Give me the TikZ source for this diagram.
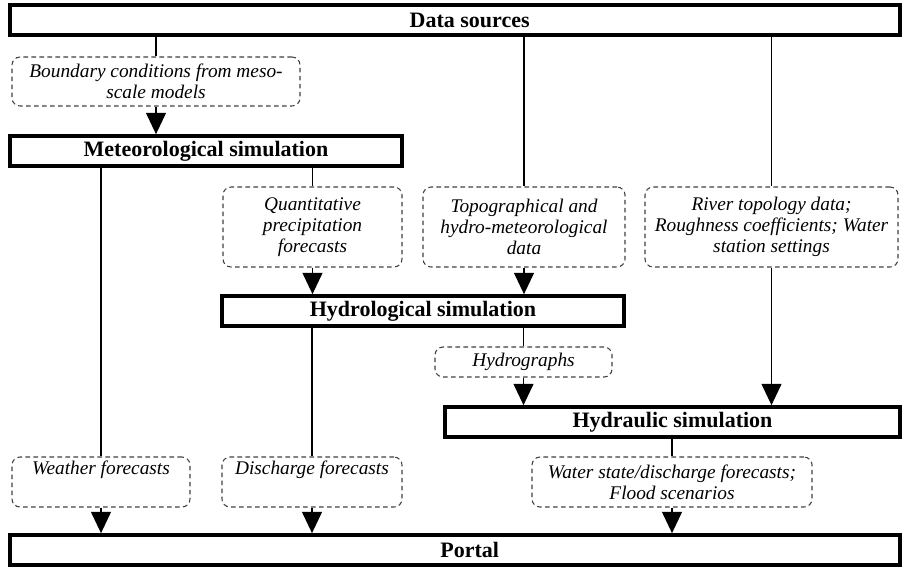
\documentclass[tikz,border=0pt]{standalone}
\usepackage{fontspec}
\setmainfont{Liberation Serif}
\usetikzlibrary{arrows.meta,positioning}

\begin{document}
\begin{tikzpicture}[
x=0.75pt, y=-0.75pt,
sim/.style={draw, line width=2.8pt, fill=white, inner sep=0pt, minimum height=22.5pt, font=\fontsize{16.5}{18}\selectfont\bfseries},
flow/.style={draw=black!75, dash pattern=on 3.5pt off 2.5pt, rounded corners=6pt, line width=0.8pt, align=center, inner sep=1pt, font=\fontsize{14.5}{16}\selectfont\itshape},
link/.style={line width=1pt},
arrow/.style={-{Triangle[width=15pt,length=16pt]}, line width=1pt}
]
\useasboundingbox (0,0) rectangle (902,568);

% Sources and simulations
\node[sim, minimum width=667.5pt] (src) at (455,20) {\hspace*{22pt}Data sources};
\node[sim, minimum width=294pt] (met) at (206,151) {Meteorological simulation};
\node[sim, minimum width=301.5pt] (hyd) at (423,311) {Hydrological simulation};
\node[sim, minimum width=341.25pt] (hyc) at (672.5,422) {Hydraulic simulation};
\node[sim, minimum width=667.5pt] (por) at (455,550) {\hspace*{22pt}Portal};

% Data flows
\node[flow, minimum width=216pt, minimum height=36.75pt] (bnd) at (156,81.5) {Boundary conditions from meso-\\scale models};
\node[flow, minimum width=134.25pt, minimum height=60pt] (qpf) at (312.5,227) {Quantitative\\precipitation\\forecasts};
\node[flow, minimum width=151.5pt, minimum height=60pt] (topo) at (524,227) {Topographical and\\hydro-meteorological\\data};
\node[flow, minimum width=189.75pt, minimum height=60pt] (riv) at (771.5,227) {River topology data;\\Roughness coefficients; Water\\station settings};
\node[flow, minimum width=132.75pt, minimum height=22.5pt] (hgr) at (523.5,362) {Hydrographs};
\node[flow, minimum width=133.5pt, minimum height=37.5pt] (wf) at (101,482) {Weather forecasts\\\strut};
\node[flow, minimum width=135pt, minimum height=37.5pt] (df) at (312,482) {Discharge forecasts\\\strut};
\node[flow, minimum width=210pt, minimum height=37.5pt] (ws) at (672,482) {Water state/discharge forecasts;\\Flood scenarios};

% Inputs
\draw[link] (src.south -| bnd.north) -- (bnd.north);
\draw[arrow] (bnd.south) -- (met.north -| bnd.south);
\draw[link] (met.south -| qpf.north) -- (qpf.north);
\draw[link] (src.south -| topo.north) -- (topo.north);
\draw[link] (src.south -| riv.north) -- (riv.north);
\draw[arrow] (qpf.south) -- (hyd.north -| qpf.south);
\draw[arrow] (topo.south) -- (hyd.north -| topo.south);
\draw[link] (hyd.south -| hgr.north) -- (hgr.north);
\draw[arrow] (hgr.south) -- (hyc.north -| hgr.south);
\draw[arrow] (riv.south) -- (hyc.north -| riv.south);

% Outputs to portal
\draw[link] (met.south -| wf.north) -- (wf.north);
\draw[link] (hyd.south -| df.north) -- (df.north);
\draw[link] (hyc.south -| ws.north) -- (ws.north);
\draw[arrow] (wf.south) -- (por.north -| wf.south);
\draw[arrow] (df.south) -- (por.north -| df.south);
\draw[arrow] (ws.south) -- (por.north -| ws.south);

\end{tikzpicture}
\end{document}
